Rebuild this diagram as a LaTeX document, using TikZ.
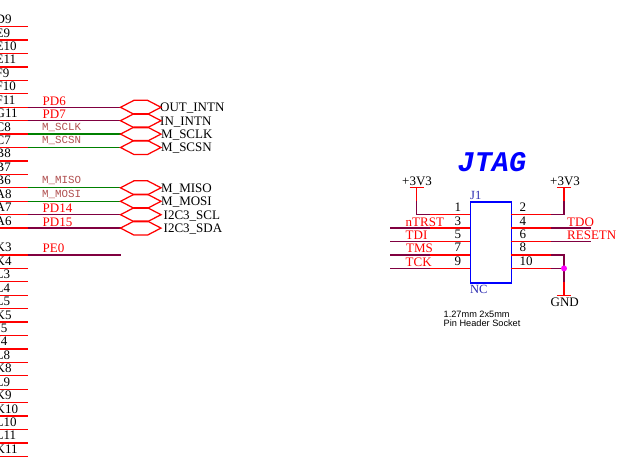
\documentclass[tikz,border=0pt]{standalone}
\usepackage{fontspec}
\setmainfont{Liberation Serif}
\newfontfamily\ariafont{Liberation Sans}
\newfontfamily\courfont{Liberation Mono}
\definecolor{netpurple}{HTML}{800040}
\definecolor{netgreen}{HTML}{008000}
\definecolor{labelred}{HTML}{FF0000}
\definecolor{monored}{HTML}{B05050}
\definecolor{partblue}{HTML}{0000FF}
\definecolor{partnavy}{HTML}{2A2AB0}
\definecolor{dotmag}{HTML}{FF00FF}
\tikzset{
  x=1pt,y=-1pt,
  pintxt/.style={font=\fontsize{13}{13}\selectfont,text=black,inner sep=0pt,anchor=base west},
  redlab/.style={font=\fontsize{13}{13}\selectfont,text=labelred,inner sep=0pt,anchor=base west},
  monolab/.style={font=\courfont\fontsize{10.8}{10.8}\selectfont,text=monored,inner sep=0pt,anchor=base west},
  pinline/.style={draw=labelred,line width=1.25pt},
  purpline/.style={draw=netpurple,line width=1.25pt},
  greenline/.style={draw=netgreen,line width=1.25pt},
  hexport/.style={draw=labelred,line width=1.25pt},
}
\begin{document}
\begin{tikzpicture}
\useasboundingbox (0,0) rectangle (630,470);
\clip (0,0) rectangle (630,470);
% left column
\foreach \lab/\yy in {D9/26.7,E9/40.1,E10/53.5,E11/67,F9/80.4,F10/93.8,F11/107.3,G11/120.7,C8/134.1,C7/147.5,B8/161,B7/174.4,B6/187.8,A8/201.3,A7/214.7,A6/228.1,K3/255,K4/268.4,L3/281.8,L4/295.2,L5/308.6,K5/322.1,J5/335.5,J4/348.9,L8/362.4,K8/375.8,L9/389.2,K9/402.6,K10/416.1,L10/429.5,L11/442.9,K11/456.4}{
  \coordinate (p\lab) at (0,\yy);
  \coordinate (q\lab) at (27.5,\yy);
  \draw[pinline] (p\lab) -- (q\lab);
  \node[pintxt] (t\lab) at (-4.5,\yy-3) {\lab};
}
% nets
\foreach \lab/\yy/\txt/\port/\px in {
  F11/107.3/PD6/OUT\_INTN/160,
  G11/120.7/PD7/IN\_INTN/160,
  A7/214.7/PD14/I2C3\_SCL/163.5,
  A6/228.1/PD15/I2C3\_SDA/163.5}{
  \coordinate (h\lab) at (120.5,\yy);
  \draw[purpline] (q\lab) -- (h\lab);
  \node[redlab] (n\lab) at (42.5,\yy-2) {\txt};
  \node[pintxt] (o\lab) at (\px,\yy+4.5) {\port};
  \draw[hexport] (h\lab) -- ++(13.5,-7) -- ++(13.5,0) -- ++(13.5,7) -- ++(-13.5,7) -- ++(-13.5,0) -- cycle;
}
\foreach \lab/\yy/\txt/\port in {
  C8/134.1/M\_SCLK/M\_SCLK,
  C7/147.5/M\_SCSN/M\_SCSN,
  B6/187.8/M\_MISO/M\_MISO,
  A8/201.3/M\_MOSI/M\_MOSI}{
  \coordinate (h\lab) at (120.5,\yy);
  \draw[greenline] (q\lab) -- (h\lab);
  \node[monolab] (n\lab) at (42,\yy-4) {\txt};
  \node[pintxt] (o\lab) at (161,\yy+4.5) {\port};
  \draw[hexport] (h\lab) -- ++(13.5,-7) -- ++(13.5,0) -- ++(13.5,7) -- ++(-13.5,7) -- ++(-13.5,0) -- cycle;
}
\coordinate (hK3) at (120.5,255);
\draw[purpline] (qK3) -- (hK3);
\node[redlab] (nK3) at (42.5,253) {PE0};
% JTAG
\node[font=\courfont\bfseries\itshape\fontsize{28.5}{28.5}\selectfont,text=partblue,inner sep=0pt,anchor=base west] (title) at (457.5,171.5) {JTAG};
\node[draw=partblue,line width=1.25pt,minimum width=40.5pt,minimum height=81pt,inner sep=0pt,anchor=north west] (J1) at (470,201.5) {};
\node[font=\fontsize{12.5}{12.5}\selectfont,text=partnavy,inner sep=0pt,anchor=base west] (refd) at (470,199.5) {J1};
\node[font=\fontsize{12.5}{12.5}\selectfont,text=partnavy,inner sep=0pt,anchor=base west] (nc) at (470,294) {NC};
% pins
\foreach \nm/\yy in {1/214.7,3/228.1,5/241.5,7/255,9/268.4}{
  \coordinate (la\nm) at (470,\yy);
  \coordinate (lb\nm) at (430,\yy);
  \draw[pinline] (la\nm) -- (lb\nm);
  \node[pintxt] (ln\nm) at (454.5,\yy-3) {\nm};
}
\foreach \nm/\yy in {2/214.7,4/228.1,6/241.5,8/255,10/268.4}{
  \coordinate (ra\nm) at (510.5,\yy);
  \coordinate (rb\nm) at (550.5,\yy);
  \draw[pinline] (ra\nm) -- (rb\nm);
  \node[pintxt] (rn\nm) at (519.5,\yy-3) {\nm};
}
% power
\coordinate (vl) at (416.5,187.5);
\coordinate (vr) at (564,187.5);
\coordinate (vlm) at (416.5,201);
\coordinate (vrm) at (564,201);
\draw[netpurple,line width=1.25pt] (lb1) -- (416.5,214.7) -- (vlm);
\draw[labelred,line width=1.25pt] (vlm) -- (vl);
\draw[labelred,line width=1.25pt] (409.5,187.5) -- (423.5,187.5);
\draw[netpurple,line width=1.25pt] (rb2) -- (564,214.7) -- (vrm);
\draw[labelred,line width=1.25pt] (vrm) -- (vr);
\draw[labelred,line width=1.25pt] (557,187.5) -- (571,187.5);
\node[pintxt] (pl) at (402,185.5) {+3V3};
\node[pintxt] (pr) at (550,185.5) {+3V3};
% nets on connector
\foreach \nm/\txt/\xx in {3/nTRST/405.5,5/TDI/405.5,7/TMS/406,9/TCK/405.5}{
  \draw[netpurple,line width=1.25pt] (lb\nm) -- (390,0 |- lb\nm);
  \node[redlab,yshift=-1pt] (lt\nm) at (\xx,0 |- ln\nm.base) {\txt};
}
\foreach \nm/\txt in {4/TDO,6/RESETN}{
  \draw[netpurple,line width=1.25pt] (rb\nm) -- (591,0 |- rb\nm);
  \node[redlab,yshift=-1pt] (rt\nm) at (567,0 |- rn\nm.base) {\txt};
}
% GND
\coordinate (gnd) at (564,295.5);
\coordinate (gndm) at (564,282);
\coordinate (dot) at (564,268.4);
\draw[netpurple,line width=1.25pt] (rb8) -- (564,0 |- rb8) -- (gndm);
\draw[labelred,line width=1.25pt] (gndm) -- (gnd);
\draw[netpurple,line width=1.25pt] (rb10) -- (dot);
\draw[labelred,line width=1.25pt] (557,295.5) -- (571,295.5);
\fill[dotmag] (dot) circle (3);
\node[pintxt] (gndt) at (550.5,306.5) {GND};
\node[font=\ariafont\fontsize{9.2}{9.2}\selectfont,text=black,inner sep=0pt,anchor=base west] (c1) at (443.5,317.5) {1.27mm 2x5mm};
\node[font=\ariafont\fontsize{9.2}{9.2}\selectfont,text=black,inner sep=0pt,anchor=base west] (c2) at (443.5,326.7) {Pin Header Socket};
\end{tikzpicture}
\end{document}
